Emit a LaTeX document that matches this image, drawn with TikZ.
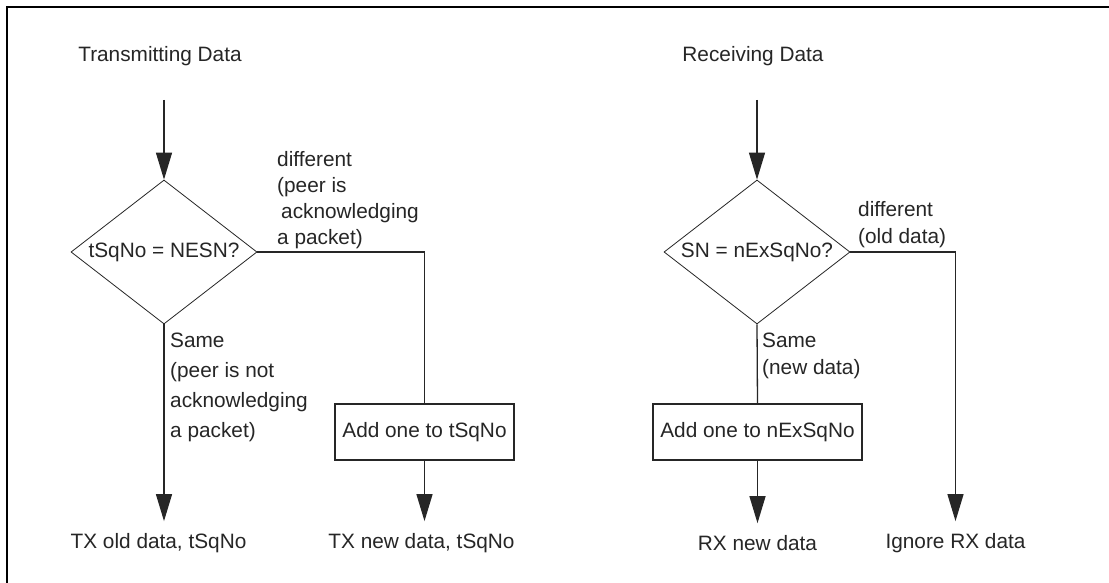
\documentclass[tikz,border=0pt]{standalone}
\usepackage{fontspec}
\setmainfont{Liberation Sans}
\usetikzlibrary{shapes.geometric,arrows.meta}
\begin{document}
\begin{tikzpicture}[x=1pt,y=-1pt,
  txt/.style={inner sep=0pt,font=\fontsize{20.8}{26}\selectfont,text=black!85},
  lbl/.style={txt,align=left,anchor=west},
  dia/.style={draw=black!85,line width=0.8pt,diamond,aspect=1.29,inner sep=0pt,
    minimum width=186pt,minimum height=144pt,font=\fontsize{20.8}{26}\selectfont,text=black!85},
  boxn/.style={draw=black!85,line width=1.1pt,inner sep=0pt,minimum width=179pt,
    minimum height=56pt,font=\fontsize{20.8}{26}\selectfont,text=black!85},
  conn/.style={draw=black!85,line width=1.3pt},
  arr/.style={conn,-{Triangle[length=27pt,width=16pt]}}]
\useasboundingbox (0,0) rectangle (1109,583);
\fill[white] (0,0) rectangle (1109,583);
\draw[line width=2.4pt] (1109,7) -- (7,7) -- (7,583);

% Transmitting side
\node[txt] (ttitle) at (160,56) {Transmitting Data};
\coordinate (tstart) at (164,100);
\node[dia] (d1) at (164,252) {tSqNo = NESN?};
\node[boxn] (b1) at (424.5,432) {Add one to tSqNo};
\node[txt] (txold) at (158.5,543) {TX old data, tSqNo};
\node[txt] (txnew) at (421.5,543) {TX new data, tSqNo};
\draw[arr] (tstart) -- (d1.north);
\draw[conn] (d1.east) -| (b1.north);
\draw[arr,shorten >=12pt] (b1.south) -- (b1.south |- txnew.north);
\draw[arr,shorten >=12pt] (d1.south) -- (d1.south |- txold.north);
\node[lbl] (difft) at (277,200) {different\\(peer is\\\hspace{4pt}acknowledging\\a packet)};
\node[lbl,font=\fontsize{20.8}{30}\selectfont] (samet) at (170,387) {Same\\(peer is not\\acknowledging\\a packet)};

% Receiving side
\node[txt] (rtitle) at (753,56) {Receiving Data};
\coordinate (rstart) at (757,100);
\node[dia] (d2) at (757,252) {SN = nExSqNo?};
\node[boxn,minimum width=209pt] (b2) at (757.5,432) {Add one to nExSqNo};
\node[txt] (rxnew) at (757.5,543) {RX new data};
\node[txt] (ignore) at (955.5,543) {Ignore RX data};
\draw[arr] (rstart) -- (d2.north);
\draw[conn] (d2.south) -- (b2.north);
\draw[arr,shorten >=12pt] (b2.south) -- (b2.south |- rxnew.north);
\draw[arr,shorten >=12pt] (d2.east) -| (ignore.north);
\node[lbl,font=\fontsize{20.8}{27}\selectfont] (diffr) at (858,224.5) {different\\(old data)};
\node[lbl,font=\fontsize{20.8}{27}\selectfont] (samer) at (762,355.5) {Same\\(new data)};
\end{tikzpicture}
\end{document}
